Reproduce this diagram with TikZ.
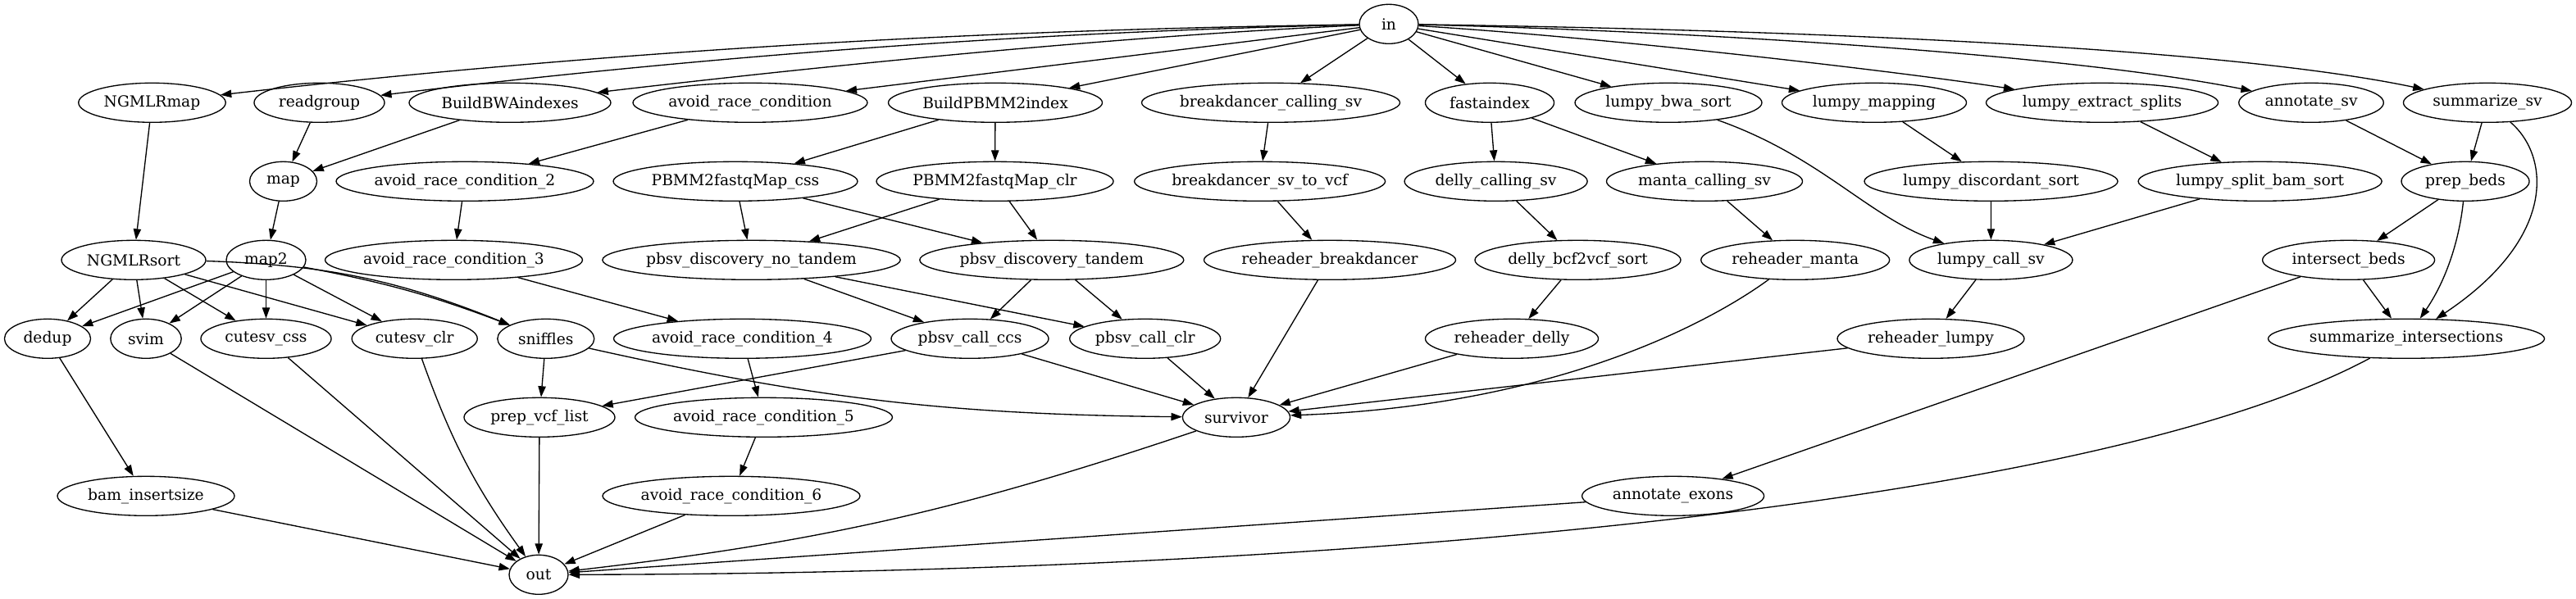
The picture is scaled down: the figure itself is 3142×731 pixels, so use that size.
\documentclass[tikz,border=0pt]{standalone}
\usepackage{fontspec}
\setmainfont{DejaVu Serif}
\usetikzlibrary{shapes.geometric,arrows.meta}
\begin{document}
\begin{tikzpicture}[x=0.75pt,y=-0.75pt,
  nd/.style={draw, ellipse, line width=1pt, inner sep=0pt, minimum height=36pt,
    font=\fontsize{14pt}{16pt}\selectfont},
  arr/.style={line width=1pt, -{Triangle[length=10pt,width=7pt]}}]
\useasboundingbox (0,0) rectangle (3142,731);
% rank 0
\node[nd, minimum width=54pt] (in) at (1694,29.3) {in};
% rank 1
\node[nd, minimum width=134.6pt] (ngmlrmap) at (185.5,125.3) {NGMLRmap};
\node[nd, minimum width=119.3pt] (readgroup) at (389.5,125.3) {readgroup};
\node[nd, minimum width=184.5pt] (bwaidx) at (622,125.3) {BuildBWAindexes};
\node[nd, minimum width=214.5pt] (arc1) at (915,125.3) {avoid\_race\_condition};
\node[nd, minimum width=195.8pt] (pbidx) at (1214,125.3) {BuildPBMM2index};
\node[nd, minimum width=236.3pt] (bdcall) at (1550,125.3) {breakdancer\_calling\_sv};
\node[nd, minimum width=117.8pt] (fastaidx) at (1817,125.3) {fastaindex};
\node[nd, minimum width=171pt] (lbwa) at (2035,125.3) {lumpy\_bwa\_sort};
\node[nd, minimum width=168.8pt] (lmap) at (2286,125.3) {lumpy\_mapping};
\node[nd, minimum width=212.3pt] (lext) at (2564,125.3) {lumpy\_extract\_splits};
\node[nd, minimum width=132.4pt] (annsv) at (2819,125.3) {annotate\_sv};
\node[nd, minimum width=153.8pt] (sumsv) at (3034,125.3) {summarize\_sv};
% rank 2
\node[nd, minimum width=61.5pt] (map) at (345.5,221.3) {map};
\node[nd, minimum width=235.5pt] (arc2) at (567,221.3) {avoid\_race\_condition\_2};
\node[nd, minimum width=223.5pt] (pbcss) at (897,221.3) {PBMM2fastqMap\_css};
\node[nd, minimum width=216.8pt] (pbclr) at (1213.5,221.3) {PBMM2fastqMap\_clr};
\node[nd, minimum width=229.5pt] (bdvcf) at (1536.6,221.3) {breakdancer\_sv\_to\_vcf};
\node[nd, minimum width=167.3pt] (dcall) at (1824.6,221.3) {delly\_calling\_sv};
\node[nd, minimum width=179.3pt] (mcall) at (2079,221.3) {manta\_calling\_sv};
\node[nd, minimum width=231.8pt] (ldisc) at (2428.5,221.3) {lumpy\_discordant\_sort};
\node[nd, minimum width=222.8pt] (lsplit) at (2756.6,221.3) {lumpy\_split\_bam\_sort};
\node[nd, minimum width=117pt] (prepbeds) at (3007,221.3) {prep\_beds};
% rank 3
\node[nd, minimum width=132pt] (ngmlrsort) at (163,317.3) {NGMLRsort};
\node[nd, minimum width=72.8pt] (maptwo) at (324.5,317.3) {map2};
\node[nd, minimum width=235.5pt] (arc3) at (553.5,317.3) {avoid\_race\_condition\_3};
\node[nd, minimum width=272.3pt] (pbnt) at (916.5,317.3) {pbsv\_discovery\_no\_tandem};
\node[nd, minimum width=241.5pt] (pbt) at (1282.8,317.3) {pbsv\_discovery\_tandem};
\node[nd, minimum width=230.3pt] (rhbd) at (1622,317.3) {reheader\_breakdancer};
\node[nd, minimum width=188.3pt] (dsort) at (1924.5,317.3) {delly\_bcf2vcf\_sort};
\node[nd, minimum width=172.5pt] (rhmanta) at (2189.7,317.3) {reheader\_manta};
\node[nd, minimum width=149.3pt] (lcall) at (2428.4,317.3) {lumpy\_call\_sv};
\node[nd, minimum width=157.5pt] (ibeds) at (2864.6,317.3) {intersect\_beds};
% rank 4
\node[nd, minimum width=78.8pt] (dedup) at (58,413.3) {dedup};
\node[nd, minimum width=64.8pt] (svim) at (178,413.3) {svim};
\node[nd, minimum width=119.3pt] (ccss) at (324.5,413.3) {cutesv\_css};
\node[nd, minimum width=114.8pt] (cclr) at (505.7,413.3) {cutesv\_clr};
\node[nd, minimum width=88.5pt] (sniffles) at (665.8,413.3) {sniffles};
\node[nd, minimum width=235.5pt] (arc4) at (905.5,413.3) {avoid\_race\_condition\_4};
\node[nd, minimum width=144pt] (callccs) at (1183,413.3) {pbsv\_call\_ccs};
\node[nd, minimum width=138pt] (callclr) at (1396.7,413.3) {pbsv\_call\_clr};
\node[nd, minimum width=158.3pt] (rhdelly) at (1844,413.3) {reheader\_delly};
\node[nd, minimum width=171pt] (rhlumpy) at (2355,413.3) {reheader\_lumpy};
\node[nd, minimum width=252.8pt] (sumint) at (2935,413.3) {summarize\_intersections};
% rank 5
\node[nd, minimum width=138pt] (prepvcf) at (658,509.3) {prep\_vcf\_list};
\node[nd, minimum width=235.5pt] (arc5) at (931.5,509.3) {avoid\_race\_condition\_5};
\node[nd, minimum width=98.3pt] (survivor) at (1508,509.3) {survivor};
% rank 6
\node[nd, minimum width=162pt] (bamins) at (178,605.3) {bam\_insertsize};
\node[nd, minimum width=235.5pt] (arc6) at (892,605.3) {avoid\_race\_condition\_6};
\node[nd, minimum width=166.5pt] (annex) at (2040.6,605.3) {annotate\_exons};
% rank 7
\node[nd, minimum width=54pt] (out) at (657,701.3) {out};

% edges from in
\draw[arr] (in) .. controls (1400,34) and (900,44) .. (ngmlrmap);
\draw[arr] (in) .. controls (1400,36) and (1000,52) .. (readgroup);
\draw[arr] (in) .. controls (1400,42) and (1050,75) .. (bwaidx);
\draw[arr] (in) -- (arc1);
\draw[arr] (in) -- (pbidx);
\draw[arr] (in) -- (bdcall);
\draw[arr] (in) -- (fastaidx);
\draw[arr] (in) -- (lbwa);
\draw[arr] (in) -- (lmap);
\draw[arr] (in) .. controls (1950,45) and (2300,85) .. (lext);
\draw[arr] (in) .. controls (2000,36) and (2500,62) .. (annsv);
\draw[arr] (in) .. controls (2150,36) and (2700,55) .. (sumsv);
% rank 1 -> 2
\draw[arr] (ngmlrmap) -- (ngmlrsort);
\draw[arr] (readgroup) -- (map);
\draw[arr] (bwaidx) -- (map);
\draw[arr] (arc1) -- (arc2);
\draw[arr] (pbidx) -- (pbcss);
\draw[arr] (pbidx) -- (pbclr);
\draw[arr] (bdcall) -- (bdvcf);
\draw[arr] (fastaidx) -- (dcall);
\draw[arr] (fastaidx) -- (mcall);
\draw[arr] (lbwa) .. controls (2221,191) and (2278,264) .. (lcall);
\draw[arr] (lmap) -- (ldisc);
\draw[arr] (lext) -- (lsplit);
\draw[arr] (annsv) -- (prepbeds);
\draw[arr] (sumsv) -- (prepbeds);
\draw[arr] (sumsv) .. controls (3110,190) and (3120,290) .. (sumint);
% rank 2 -> 3
\draw[arr] (map) -- (maptwo);
\draw[arr] (arc2) -- (arc3);
\draw[arr] (pbcss) -- (pbnt);
\draw[arr] (pbcss) -- (pbt);
\draw[arr] (pbclr) -- (pbnt);
\draw[arr] (pbclr) -- (pbt);
\draw[arr] (bdvcf) -- (rhbd);
\draw[arr] (dcall) -- (dsort);
\draw[arr] (mcall) -- (rhmanta);
\draw[arr] (ldisc) -- (lcall);
\draw[arr] (lsplit) -- (lcall);
\draw[arr] (prepbeds) -- (ibeds);
\draw[arr] (prepbeds) .. controls (3000,290) and (2985,340) .. (sumint);
% rank 3 -> 4
\draw[arr] (ngmlrsort) -- (dedup);
\draw[arr] (ngmlrsort) -- (svim);
\draw[arr] (ngmlrsort) -- (ccss);
\draw[arr] (ngmlrsort) -- (cclr);
\draw[arr] (ngmlrsort) to[bend left=10] (sniffles);
\draw[arr] (maptwo) -- (dedup);
\draw[arr] (maptwo) -- (svim);
\draw[arr] (maptwo) -- (ccss);
\draw[arr] (maptwo) -- (cclr);
\draw[arr] (maptwo) to[bend left=5] (sniffles);
\draw[arr] (arc3) -- (arc4);
\draw[arr] (pbnt) -- (callccs);
\draw[arr] (pbnt) -- (callclr);
\draw[arr] (pbt) -- (callccs);
\draw[arr] (pbt) -- (callclr);
\draw[arr] (rhbd) -- (survivor);
\draw[arr] (dsort) -- (rhdelly);
\draw[arr] (rhmanta) .. controls (2088,392) and (1900,495) .. (survivor);
\draw[arr] (lcall) -- (rhlumpy);
\draw[arr] (ibeds) -- (sumint);
\draw[arr] (ibeds) -- (annex);
% rank 4 -> lower
\draw[arr] (dedup) -- (bamins);
\draw[arr] (svim) -- (out);
\draw[arr] (ccss) -- (out);
\draw[arr] (cclr) to[bend right=8] (out);
\draw[arr] (sniffles) -- (prepvcf);
\draw[arr] (sniffles) to[bend right=6] (survivor);
\draw[arr] (arc4) -- (arc5);
\draw[arr] (callccs) -- (prepvcf);
\draw[arr] (callccs) -- (survivor);
\draw[arr] (callclr) -- (survivor);
\draw[arr] (rhdelly) -- (survivor);
\draw[arr] (rhlumpy) -- (survivor);
\draw[arr] (sumint) .. controls (2550,620) and (1600,700) .. (out);
% rank 5 -> lower
\draw[arr] (prepvcf) -- (out);
\draw[arr] (arc5) -- (arc6);
\draw[arr] (survivor) to[bend left=6] (out);
% rank 6 -> out
\draw[arr] (bamins) -- (out);
\draw[arr] (arc6) -- (out);
\draw[arr] (annex) -- (out);
\end{tikzpicture}
\end{document}
